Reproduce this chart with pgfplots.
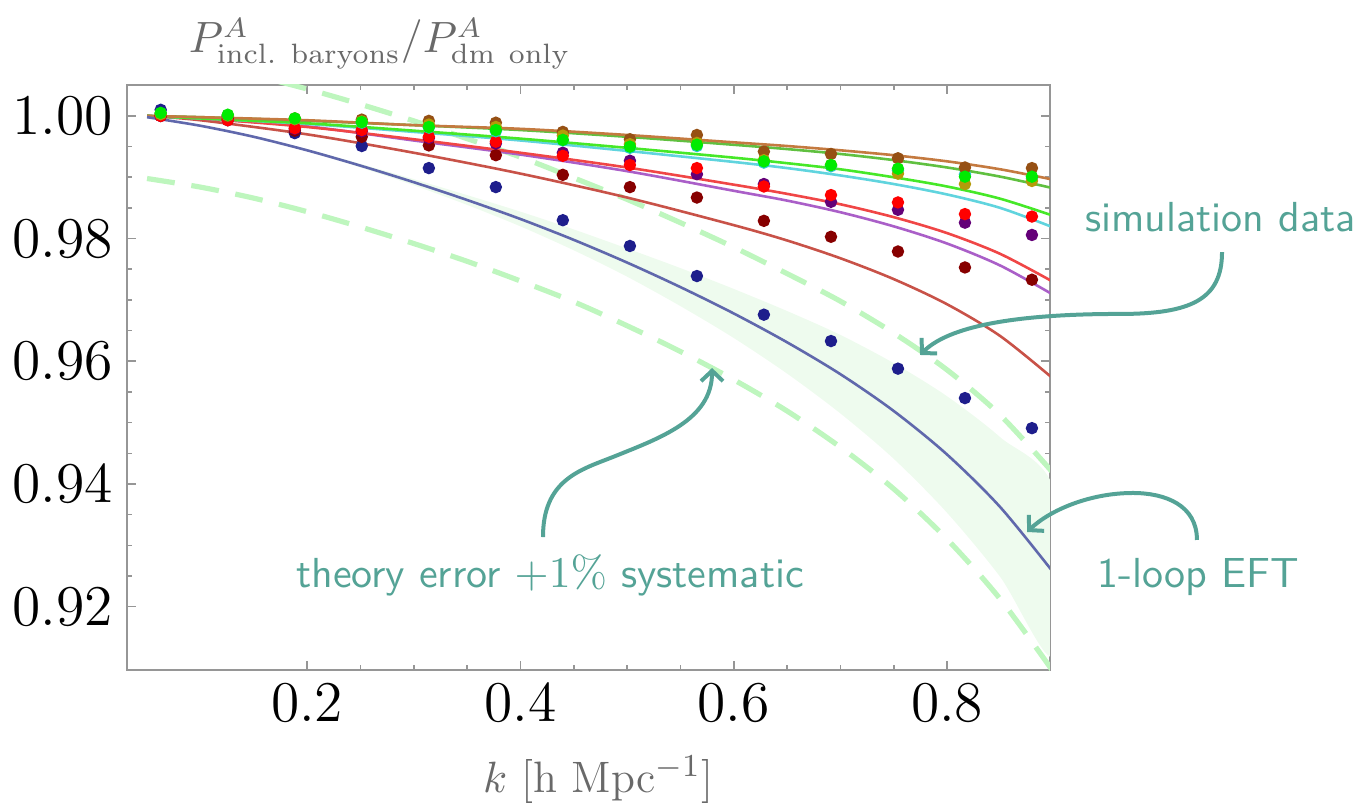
\documentclass[border=0pt]{standalone}
\usepackage{pgfplots}
\usepackage{pgfplotstable}
\pgfplotsset{compat=1.18}
\usetikzlibrary{arrows.meta}

\definecolor{annot}{RGB}{84,163,150}
\definecolor{labelgray}{RGB}{105,105,105}
\definecolor{framegray}{RGB}{150,150,150}
\definecolor{dashgreen}{RGB}{190,246,190}
\definecolor{bandgreen}{RGB}{238,251,238}
% line colours
\definecolor{lbrown}{RGB}{196,122,64}
\definecolor{lgreen}{RGB}{96,192,64}
\definecolor{llime}{RGB}{70,232,40}
\definecolor{lcyan}{RGB}{96,212,222}
\definecolor{lred}{RGB}{240,70,70}
\definecolor{lpurple}{RGB}{170,95,200}
\definecolor{lired}{RGB}{200,82,72}
\definecolor{lblue}{RGB}{96,104,172}
% point colours
\definecolor{pbrown}{RGB}{150,80,20}
\definecolor{polive}{RGB}{180,155,10}
\definecolor{plime}{RGB}{0,235,0}
\definecolor{pcyan}{RGB}{40,200,210}
\definecolor{pred}{RGB}{255,0,0}
\definecolor{ppurple}{RGB}{100,0,120}
\definecolor{pmaroon}{RGB}{135,0,0}
\definecolor{pnavy}{RGB}{30,30,140}

\tikzset{
  annarrow/.style={draw=annot, line width=1pt, -{Straight Barb[length=2.6pt,width=5.5pt]}},
  anntext/.style={text=annot, font=\sffamily\fontsize{10.5}{12}\selectfont},
}

% simulation data, ratio with/without baryons
\pgfplotstableread{
k      brown  olive  lime   cyan   red    purple maroon navy
0.0628 1.0003 1.0003 1.0005 1.0004 1.0000 1.0000 1.0000 1.0010
0.1257 1.0000 1.0001 1.0002 1.0001 0.9993 0.9993 0.9995 0.9999
0.1885 0.9996 0.9995 0.9996 0.9995 0.9980 0.9979 0.9976 0.9972
0.2513 0.9994 0.9991 0.9990 0.9989 0.9977 0.9975 0.9966 0.9951
0.3142 0.9992 0.9986 0.9982 0.9981 0.9966 0.9964 0.9952 0.9915
0.3770 0.9989 0.9982 0.9977 0.9975 0.9958 0.9955 0.9936 0.9884
0.4398 0.9974 0.9968 0.9961 0.9960 0.9935 0.9940 0.9904 0.9830
0.5027 0.9962 0.9954 0.9950 0.9948 0.9920 0.9927 0.9884 0.9788
0.5655 0.9969 0.9956 0.9953 0.9951 0.9915 0.9905 0.9867 0.9739
0.6283 0.9942 0.9928 0.9926 0.9924 0.9885 0.9889 0.9829 0.9676
0.6912 0.9938 0.9920 0.9920 0.9918 0.9871 0.9860 0.9803 0.9633
0.7540 0.9931 0.9906 0.9914 0.9911 0.9859 0.9847 0.9779 0.9588
0.8168 0.9916 0.9889 0.9901 0.9905 0.9840 0.9826 0.9753 0.9540
0.8796 0.9915 0.9894 0.9901 0.9898 0.9836 0.9806 0.9733 0.9491
}\simdata

% 1-loop EFT prediction with +1% systematic on top of the theory error
\pgfplotstableread{
k    eft    sysup  syslo
0.05 0.9998 1.0098 0.9898
0.10 0.9984 1.0084 0.9884
0.15 0.9966 1.0066 0.9866
0.20 0.9944 1.0044 0.9844
0.25 0.9919 1.0019 0.9819
0.30 0.9892 0.9992 0.9792
0.35 0.9863 0.9963 0.9763
0.40 0.9832 0.9933 0.9731
0.45 0.9798 0.9899 0.9697
0.50 0.9761 0.9864 0.9658
0.55 0.9721 0.9826 0.9616
0.60 0.9678 0.9786 0.9570
0.65 0.9631 0.9743 0.9519
0.70 0.9579 0.9698 0.9460
0.75 0.9519 0.9646 0.9392
0.80 0.9448 0.9586 0.9310
0.85 0.9362 0.9512 0.9212
0.90 0.9255 0.9417 0.9093
}\eftdata

% theory error band: upper edge left to right, lower edge back
\pgfplotstableread{
k    band
0.05 0.9998
0.10 0.9984
0.15 0.9967
0.20 0.9946
0.25 0.9922
0.30 0.9897
0.35 0.9871
0.40 0.9844
0.45 0.9815
0.50 0.9784
0.55 0.9752
0.60 0.9718
0.65 0.9682
0.70 0.9643
0.75 0.9597
0.80 0.9543
0.85 0.9476
0.90 0.9390
0.90 0.9120
0.85 0.9248
0.80 0.9353
0.75 0.9441
0.70 0.9515
0.65 0.9580
0.60 0.9638
0.55 0.9690
0.50 0.9738
0.45 0.9781
0.40 0.9820
0.35 0.9855
0.30 0.9887
0.25 0.9916
0.20 0.9943
0.15 0.9965
0.10 0.9984
0.05 0.9998
}\banddata

% fits to the individual simulations
\pgfplotstableread{
k    brown  green  lime   cyan   red    purple ired
0.05 1.0000 1.0000 1.0000 1.0000 1.0000 1.0000 1.0000
0.10 0.9998 0.9998 0.9996 0.9996 0.9996 0.9996 0.9993
0.20 0.9993 0.9992 0.9988 0.9987 0.9982 0.9983 0.9970
0.30 0.9985 0.9985 0.9976 0.9974 0.9962 0.9960 0.9940
0.40 0.9979 0.9977 0.9963 0.9960 0.9940 0.9937 0.9906
0.50 0.9969 0.9966 0.9948 0.9943 0.9916 0.9910 0.9867
0.60 0.9957 0.9953 0.9932 0.9925 0.9888 0.9878 0.9822
0.65 0.9951 0.9946 0.9923 0.9915 0.9873 0.9862 0.9797
0.70 0.9944 0.9938 0.9913 0.9903 0.9856 0.9843 0.9768
0.75 0.9936 0.9928 0.9900 0.9889 0.9835 0.9820 0.9734
0.80 0.9926 0.9916 0.9885 0.9872 0.9809 0.9792 0.9693
0.85 0.9913 0.9901 0.9865 0.9850 0.9775 0.9756 0.9641
0.90 0.9896 0.9882 0.9837 0.9818 0.9729 0.9708 0.9571
}\fitdata

\begin{document}
\begin{tikzpicture}
\useasboundingbox (-31.75pt,-33.5pt) rectangle (308.5pt,167.5pt);
\begin{axis}[
  at={(0,0)}, anchor=south west,
  scale only axis, width=230.75pt, height=146.25pt,
  xmin=0.0312, xmax=0.8965, ymin=0.90967, ymax=1.00505,
  clip mode=individual,
  axis line style={framegray, line width=0.5pt},
  xtick={0.2,0.4,0.6,0.8}, ytick={0.92,0.94,0.96,0.98,1.00},
  minor x tick num=3, minor y tick num=3,
  tick align=inside,
  major tick length=2.2pt, minor tick length=1.3pt,
  every tick/.style={framegray, line width=0.4pt},
  tick label style={font=\fontsize{13.5}{16}\selectfont},
  xticklabel style={/pgf/number format/.cd, fixed, fixed zerofill, precision=1},
  yticklabel style={/pgf/number format/.cd, fixed, fixed zerofill, precision=2},
]
% theory error band around the EFT curve
\addplot[draw=none, fill=bandgreen, smooth] table[x=k, y=band] {\banddata} -- cycle;
% theory error + 1% systematic
\addplot[dashgreen, line width=1.3pt, dash pattern=on 7pt off 4.2pt, smooth] table[x=k, y=sysup] {\eftdata};
\addplot[dashgreen, line width=1.3pt, dash pattern=on 7pt off 4.2pt, smooth] table[x=k, y=syslo] {\eftdata};
% fitted curves
\addplot[lired,   line width=0.65pt, smooth] table[x=k, y=ired]   {\fitdata};
\addplot[lpurple, line width=0.65pt, smooth] table[x=k, y=purple] {\fitdata};
\addplot[lred,    line width=0.65pt, smooth] table[x=k, y=red]    {\fitdata};
\addplot[lcyan,   line width=0.65pt, smooth] table[x=k, y=cyan]   {\fitdata};
\addplot[llime,   line width=0.65pt, smooth] table[x=k, y=lime]   {\fitdata};
\addplot[lgreen,  line width=0.65pt, smooth] table[x=k, y=green]  {\fitdata};
\addplot[lbrown,  line width=0.65pt, smooth] table[x=k, y=brown]  {\fitdata};
\addplot[lblue,   line width=0.65pt, smooth] table[x=k, y=eft]    {\eftdata};
% simulation points
\addplot[only marks, mark=*, mark size=1.35pt, pnavy]   table[x=k, y=navy]   {\simdata};
\addplot[only marks, mark=*, mark size=1.35pt, pmaroon] table[x=k, y=maroon] {\simdata};
\addplot[only marks, mark=*, mark size=1.35pt, ppurple] table[x=k, y=purple] {\simdata};
\addplot[only marks, mark=*, mark size=1.35pt, pred]    table[x=k, y=red]    {\simdata};
\addplot[only marks, mark=*, mark size=1.35pt, pcyan]   table[x=k, y=cyan]   {\simdata};
\addplot[only marks, mark=*, mark size=1.35pt, pbrown]  table[x=k, y=brown]  {\simdata};
\addplot[only marks, mark=*, mark size=1.35pt, polive]  table[x=k, y=olive]  {\simdata};
\addplot[only marks, mark=*, mark size=1.35pt, plime]   table[x=k, y=lime]   {\simdata};

% annotations
\draw[annarrow] (axis cs:1.0578,0.9778) .. controls (axis cs:1.0578,0.9700) and (axis cs:1.0278,0.96772)
  .. (axis cs:0.9622,0.96772) .. controls (axis cs:0.8497,0.96772) and (axis cs:0.7981,0.96511)
  .. (axis cs:0.7747,0.96103);
\draw[annarrow] (axis cs:1.0343,0.93087) .. controls (axis cs:1.0343,0.93657) and (axis cs:1.0043,0.93853)
  .. (axis cs:0.9743,0.93853) .. controls (axis cs:0.9340,0.93853) and (axis cs:0.8966,0.93576)
  .. (axis cs:0.8750,0.93217);
\draw[annarrow] (axis cs:0.4212,0.93135) .. controls (axis cs:0.4212,0.94065) and (axis cs:0.4559,0.94228)
  .. (axis cs:0.4868,0.9444) .. controls (axis cs:0.5309,0.9475) and (axis cs:0.5797,0.95043)
  .. (axis cs:0.5797,0.95891);
\node[anntext, anchor=base] at (axis cs:1.0562,0.9811) {simulation data};
\node[anntext, anchor=base] at (axis cs:1.0353,0.9232) {1-loop EFT};
\node[anntext, anchor=base] at (axis cs:0.4278,0.9232) {theory error $+1\%$ systematic};

% axis labels
\node[anchor=base west, inner sep=0pt, text=labelgray, font=\fontsize{10.6}{13}\selectfont]
  at (axis cs:0.0884,1.01027) {$P^A_{\mathrm{incl.\ baryons}}/P^A_{\mathrm{dm\ only}}$};
\node[anchor=base, text=labelgray, font=\fontsize{11}{13}\selectfont]
  at (axis cs:0.4728,0.88978) {$k$ [h Mpc$^{-1}$]};
\end{axis}
\end{tikzpicture}
\end{document}
